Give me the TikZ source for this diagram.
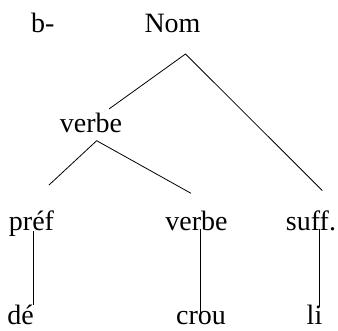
\documentclass[tikz,border=0pt]{standalone}
\usepackage{fontspec}
\setmainfont{Liberation Serif}
\begin{document}
\begin{tikzpicture}[x=1pt,y=-1pt,
  lbl/.style={inner sep=0pt, outer sep=0pt, anchor=base, font=\fontsize{28}{34}\selectfont},
  branch/.style={line width=0.8pt, black}]
\useasboundingbox (0,0) rectangle (338,331);
% texts
\node[lbl, anchor=base west] (b) at (31,32.5) {b-};
\node[lbl] (nom) at (172.5,32.5) {Nom};
\node[lbl] (v1) at (91,133) {verbe};
\node[lbl] (pref) at (31.5,230.5) {préf};
\node[lbl] (v2) at (196.5,230.5) {verbe};
\node[lbl] (suff) at (311,230.5) {suff.};
\node[lbl] (de) at (20.5,325) {dé};
\node[lbl] (crou) at (201,325) {crou};
\node[lbl] (li) at (314.5,325) {li};
% connector ends
\coordinate (nomA) at (185.5,54);
\coordinate (nomL) at (109,109);
\coordinate (nomR) at (322.3,190.5);
\coordinate (v1A) at (96.7,140.7);
\coordinate (v1L) at (49,185);
\coordinate (v1R) at (191,193.3);
\coordinate (prefT) at (33.5,231);
\coordinate (prefB) at (33.5,305);
\coordinate (v2T) at (200,229);
\coordinate (v2B) at (200,318);
\coordinate (suffT) at (319,229);
\coordinate (suffB) at (319,307);
% connectors
\draw[branch] (nomL) -- (nomA) -- (nomR);
\draw[branch] (v1L) -- (v1A) -- (v1R);
\draw[branch] (prefT) -- (prefB);
\draw[branch] (v2T) -- (v2B);
\draw[branch] (suffT) -- (suffB);
\end{tikzpicture}
\end{document}
